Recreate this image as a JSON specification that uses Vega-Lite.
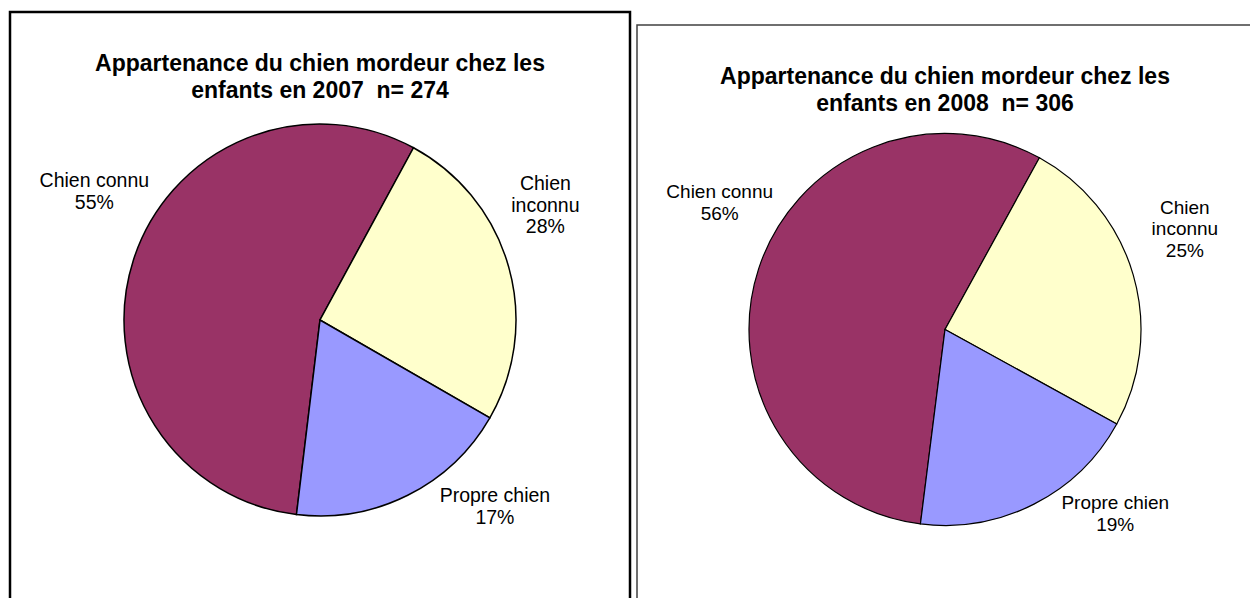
{
  "$schema": "https://vega.github.io/schema/vega-lite/v6.json",
  "padding": {"left": 8, "top": 10, "right": 0, "bottom": 0},
  "background": "#ffffff",
  "config": {"view": {"stroke": null}, "font": "Liberation Sans"},
  "datasets": {
    "y2007": [
      {"segment": "Chien connu", "share": 56.0, "label": "Chien connu\n55%"},
      {"segment": "Chien inconnu", "share": 25.4, "label": "Chien\ninconnu\n28%"},
      {"segment": "Propre chien", "share": 18.6, "label": "Propre chien\n17%"}
    ],
    "y2008": [
      {"segment": "Chien connu", "share": 56, "label": "Chien connu\n56%"},
      {"segment": "Chien inconnu", "share": 25, "label": "Chien\ninconnu\n25%"},
      {"segment": "Propre chien", "share": 19, "label": "Propre chien\n19%"}
    ]
  },
  "spacing": 4,
  "hconcat": [
    {
      "width": 620,
      "height": 616,
      "view": {"stroke": "#000000", "strokeWidth": 2.5},
      "data": {"name": "y2007"},
      "title": {
        "text": ["Appartenance du chien mordeur chez les", "enfants en 2007 \u00a0n= 274"],
        "fontSize": 23, "fontWeight": "bold", "font": "Liberation Sans",
        "lineHeight": 27, "anchor": "middle", "offset": -91, "color": "#000000"
      },
      "encoding": {
        "theta": {"field": "share", "type": "quantitative", "stack": true, "scale": {"range": [3.2620, 9.5452]}},
        "order": {"field": "segment", "type": "nominal", "sort": "ascending"}
      },
      "layer": [
        {
          "mark": {"type": "arc", "outerRadius": 196, "stroke": "#000000", "strokeWidth": 1.5},
          "encoding": {
            "color": {"field": "segment", "type": "nominal", "legend": null,
              "scale": {"domain": ["Chien connu", "Chien inconnu", "Propre chien"], "range": ["#993366", "#FFFFCC", "#9999FF"]}}
          }
        },
        {
          "mark": {"type": "text", "radius": 265, "thetaOffset": 0.243, "fontSize": 19.5, "lineBreak": "\n", "lineHeight": 22, "align": "center", "baseline": "middle", "color": "#000000"},
          "encoding": {"text": {"condition": {"test": "datum.segment === 'Chien connu'", "field": "label"}, "value": ""}}
        },
        {
          "mark": {"type": "text", "radius": 263, "thetaOffset": -0.266, "fontSize": 19.5, "lineBreak": "\n", "lineHeight": 21.5, "align": "center", "baseline": "middle", "color": "#000000"},
          "encoding": {"text": {"condition": {"test": "datum.segment === 'Chien inconnu'", "field": "label"}, "value": ""}}
        },
        {
          "mark": {"type": "text", "radius": 248, "thetaOffset": -0.319, "fontSize": 19.5, "lineBreak": "\n", "lineHeight": 22, "align": "center", "baseline": "middle", "color": "#000000"},
          "encoding": {"text": {"condition": {"test": "datum.segment === 'Propre chien'", "field": "label"}, "value": ""}}
        }
      ]
    },
    {
      "spacing": 0,
      "vconcat": [
        {
          "width": 1,
          "height": 12,
          "data": {"values": [{"blank": ""}]},
          "mark": {"type": "text"},
          "encoding": {"text": {"field": "blank", "type": "nominal"}}
        },
        {
          "width": 616,
          "height": 609,
          "view": {"stroke": "#404040", "strokeWidth": 1.5},
          "data": {"name": "y2008"},
          "title": {
            "text": ["Appartenance du chien mordeur chez les", "enfants en 2008 \u00a0n= 306"],
            "fontSize": 23, "fontWeight": "bold", "font": "Liberation Sans",
            "lineHeight": 27, "anchor": "middle", "offset": -91, "color": "#000000"
          },
          "encoding": {
            "theta": {"field": "share", "type": "quantitative", "stack": true, "scale": {"range": [3.2673, 9.5505]}},
            "order": {"field": "segment", "type": "nominal", "sort": "ascending"}
          },
          "layer": [
            {
              "mark": {"type": "arc", "outerRadius": 196, "stroke": "#000000", "strokeWidth": 1.2},
              "encoding": {
                "color": {"field": "segment", "type": "nominal", "legend": null,
                  "scale": {"domain": ["Chien connu", "Chien inconnu", "Propre chien"], "range": ["#993366", "#FFFFCC", "#9999FF"]}}
              }
            },
            {
              "mark": {"type": "text", "radius": 264, "thetaOffset": 0.234, "fontSize": 19, "lineBreak": "\n", "lineHeight": 22, "align": "center", "baseline": "middle", "color": "#000000"},
              "encoding": {"text": {"condition": {"test": "datum.segment === 'Chien connu'", "field": "label"}, "value": ""}}
            },
            {
              "mark": {"type": "text", "radius": 269, "thetaOffset": -0.187, "fontSize": 19, "lineBreak": "\n", "lineHeight": 21.5, "align": "center", "baseline": "middle", "color": "#000000"},
              "encoding": {"text": {"condition": {"test": "datum.segment === 'Chien inconnu'", "field": "label"}, "value": ""}}
            },
            {
              "mark": {"type": "text", "radius": 243, "thetaOffset": -0.305, "fontSize": 19, "lineBreak": "\n", "lineHeight": 22, "align": "center", "baseline": "middle", "color": "#000000"},
              "encoding": {"text": {"condition": {"test": "datum.segment === 'Propre chien'", "field": "label"}, "value": ""}}
            }
          ]
        }
      ]
    }
  ]
}
